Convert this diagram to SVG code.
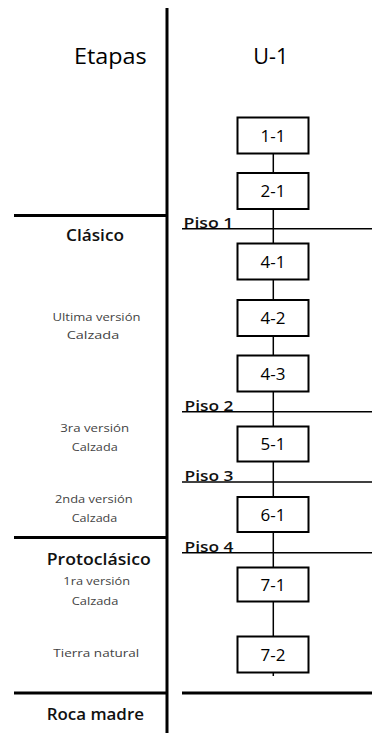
<svg xmlns="http://www.w3.org/2000/svg" width="372" height="733" viewBox="0 0 372 733">
<style>
text{font-family:"Open Sans","Liberation Sans",sans-serif;fill:#111}
.head{font-size:22px;text-anchor:middle;fill:#000}
.stage{font-size:16px;font-weight:600;text-anchor:middle}
.small{font-size:11px;text-anchor:middle;fill:#444}
.piso{font-size:15px;font-weight:600}
.lbl{font-size:17px;text-anchor:middle;fill:#000}
.thick{stroke:#000;stroke-width:3;fill:none}
.thin{stroke:#000;stroke-width:1.5;fill:none}
.box{fill:#fff;stroke:#000;stroke-width:2}
.conn{stroke:#000;stroke-width:1.5}
</style>
<rect width="372" height="733" fill="#fff"/>
<g id="frame">
<line class="thick" x1="167" y1="8" x2="167" y2="733"/>
<line class="thick" x1="14" y1="215.5" x2="167" y2="215.5"/>
<line class="thick" x1="14" y1="537.5" x2="167" y2="537.5"/>
<line class="thick" x1="14" y1="693" x2="167" y2="693"/>
<line class="thick" x1="182" y1="693" x2="372" y2="693"/>
</g>
<g id="headers">
<text class="head" x="110.3" y="64.3" textLength="72.7" lengthAdjust="spacingAndGlyphs">Etapas</text>
<text class="head" x="270.8" y="64.3" textLength="35" lengthAdjust="spacingAndGlyphs">U-1</text>
</g>
<g id="stages">
<text class="stage" x="95" y="240.7" textLength="58" lengthAdjust="spacingAndGlyphs">Clásico</text>
<text class="small" x="96.5" y="321" textLength="88" lengthAdjust="spacingAndGlyphs">Ultima versión</text>
<text class="small" x="93" y="338.5" textLength="52.6" lengthAdjust="spacingAndGlyphs">Calzada</text>
<text class="small" x="94.7" y="432.3" textLength="69" lengthAdjust="spacingAndGlyphs">3ra versión</text>
<text class="small" x="94.7" y="450.7" textLength="46" lengthAdjust="spacingAndGlyphs">Calzada</text>
<text class="small" x="93.8" y="503.3" textLength="77.7" lengthAdjust="spacingAndGlyphs">2nda versión</text>
<text class="small" x="94.5" y="521.7" textLength="45.6" lengthAdjust="spacingAndGlyphs">Calzada</text>
<text class="stage" x="98.7" y="565" textLength="104" lengthAdjust="spacingAndGlyphs">Protoclásico</text>
<text class="small" x="96.7" y="585" textLength="66.7" lengthAdjust="spacingAndGlyphs">1ra versión</text>
<text class="small" x="95" y="604.5" textLength="46.7" lengthAdjust="spacingAndGlyphs">Calzada</text>
<text class="small" x="96.3" y="656.7" textLength="86" lengthAdjust="spacingAndGlyphs">Tierra natural</text>
<text class="stage" x="95.3" y="720" textLength="97.3" lengthAdjust="spacingAndGlyphs">Roca madre</text>
</g>
<g id="pisos">
<line class="thin" x1="182" y1="228.7" x2="372" y2="228.7"/>
<text class="piso" x="183.5" y="228" textLength="50" lengthAdjust="spacingAndGlyphs">Piso 1</text>
<line class="thin" x1="182" y1="411.7" x2="372" y2="411.7"/>
<text class="piso" x="184.5" y="411" textLength="49" lengthAdjust="spacingAndGlyphs">Piso 2</text>
<line class="thin" x1="182" y1="482" x2="372" y2="482"/>
<text class="piso" x="184.5" y="481.3" textLength="49" lengthAdjust="spacingAndGlyphs">Piso 3</text>
<line class="thin" x1="182" y1="552.7" x2="372" y2="552.7"/>
<text class="piso" x="184.5" y="552" textLength="49" lengthAdjust="spacingAndGlyphs">Piso 4</text>
</g>
<g id="connectors">
<line class="conn" x1="273.3" y1="153.3" x2="273.3" y2="173"/>
<line class="conn" x1="273.3" y1="209" x2="273.3" y2="243.5"/>
<line class="conn" x1="273.3" y1="279.5" x2="273.3" y2="300"/>
<line class="conn" x1="273.3" y1="336" x2="273.3" y2="355.5"/>
<line class="conn" x1="273.3" y1="391.5" x2="273.3" y2="426.5"/>
<line class="conn" x1="273.3" y1="461.5" x2="273.3" y2="497"/>
<line class="conn" x1="273.3" y1="532" x2="273.3" y2="567.5"/>
<line class="conn" x1="273.3" y1="601.5" x2="273.3" y2="636.5"/>
<line class="conn" x1="273.3" y1="672.5" x2="273.3" y2="676"/>
</g>
<g id="n1-1"><rect class="box" x="237.5" y="117.5" width="71" height="36"/><text class="lbl" x="273" y="141.7">1-1</text></g>
<g id="n2-1"><rect class="box" x="237.5" y="173" width="71" height="36"/><text class="lbl" x="273" y="197.3">2-1</text></g>
<g id="n4-1"><rect class="box" x="237.5" y="243.5" width="71" height="36"/><text class="lbl" x="273" y="267.8">4-1</text></g>
<g id="n4-2"><rect class="box" x="237.5" y="300" width="71" height="36"/><text class="lbl" x="273" y="324.3">4-2</text></g>
<g id="n4-3"><rect class="box" x="237.5" y="355.5" width="71" height="36"/><text class="lbl" x="273" y="379.8">4-3</text></g>
<g id="n5-1"><rect class="box" x="237.5" y="426.5" width="71" height="35"/><text class="lbl" x="273" y="450.3">5-1</text></g>
<g id="n6-1"><rect class="box" x="237.5" y="497" width="71" height="35"/><text class="lbl" x="273" y="520.8">6-1</text></g>
<g id="n7-1"><rect class="box" x="237.5" y="567.5" width="71" height="34"/><text class="lbl" x="273" y="590.8">7-1</text></g>
<g id="n7-2"><rect class="box" x="237.5" y="636.5" width="71" height="36"/><text class="lbl" x="273" y="660.8">7-2</text></g>
</svg>
